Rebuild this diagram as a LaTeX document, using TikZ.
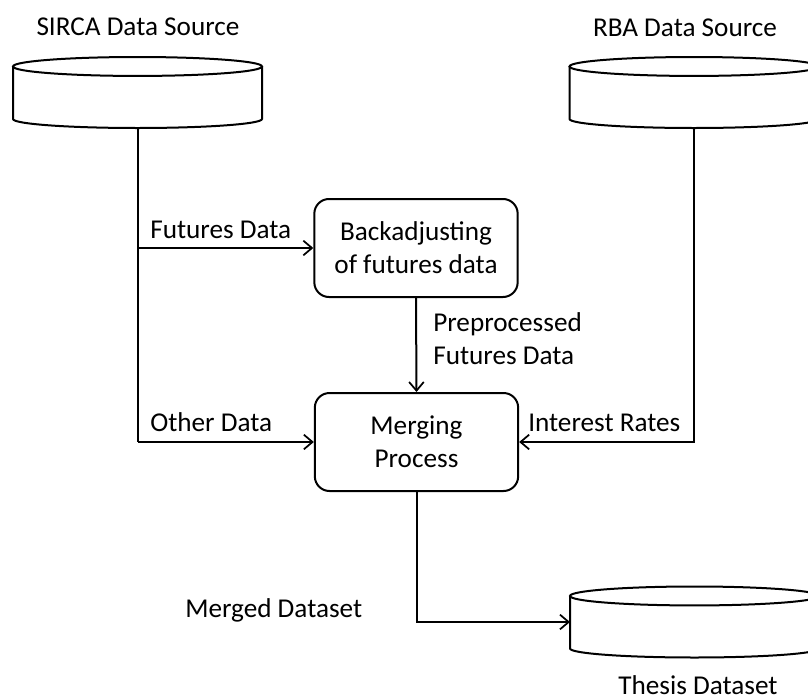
\documentclass[tikz,border=0pt]{standalone}
\usepackage{fontspec}
\setmainfont{Carlito}
\usetikzlibrary{arrows.meta}
\tikzset{
  ln/.style={line width=1.5pt, black},
  conn/.style={ln, -{Straight Barb[length=6.5pt,width=11pt,line width=1.3pt]}},
  procbox/.style={draw, ln, rounded corners=11pt, align=center, inner sep=0pt,
     minimum width=152.5pt, minimum height=73.5pt},
  dbnode/.style={inner sep=0pt, outer sep=0pt, minimum width=186.75pt, minimum height=53.25pt},
  lbl/.style={inner sep=0pt, align=left},
}
\newcommand\dbcyl[1]{%
  \fill[white] ([yshift=-7.1pt]#1.north west) rectangle ([yshift=6.75pt]#1.south east);
  \draw[ln] ([yshift=-7.1pt]#1.north west) -- ([yshift=6.75pt]#1.south west)
     arc[start angle=180, end angle=360, x radius=93.375pt, y radius=6.75pt]
     -- ([yshift=-7.1pt]#1.north east);
  \draw[ln, fill=white] ([yshift=-7.1pt]#1.north) ellipse [x radius=93.375pt, y radius=7.1pt];
}
\begin{document}
\begin{tikzpicture}[x=0.75pt, y=-0.75pt, font=\fontsize{20.4}{24.75}\selectfont]
\useasboundingbox (0,0) rectangle (808,700);
\clip (0,0) rectangle (808,700);

% data stores
\node[dbnode] (sirca) at (137.5,92.5) {};
\node[dbnode] (rba) at (694,92.5) {};
\node[dbnode] (thesis) at (694.5,622) {};
\dbcyl{sirca}
\dbcyl{rba}
\dbcyl{thesis}

% process boxes
\node[procbox] (back) at (416,248) {Backadjusting\\of futures data};
\node[procbox] (merge) at (416.5,442) {Merging\\Process};

% connectors
\draw[ln] (sirca.south) -- (sirca.south |- merge.west);
\draw[conn] (sirca.south |- back.west) -- (back.west);
\draw[conn] (sirca.south |- merge.west) -- (merge.west);
\draw[conn] (rba.south) |- (merge.east);
\draw[conn] (back.south) -- (merge.north);
\draw[conn] (merge.south) |- (thesis.west);

% labels
\node[lbl, anchor=base] (tsirca) at (138,35) {SIRCA Data Source};
\node[lbl, anchor=base] (trba) at (685,36) {RBA Data Source};
\node[lbl, anchor=base west] (tfut) at (150,238) {Futures Data};
\node[lbl, anchor=base west] (toth) at (150,431) {Other Data};
\node[lbl, anchor=base west] (tint) at (528,431) {Interest Rates};
\node[lbl, anchor=north west] (tpre) at (433,312) {Preprocessed\\Futures Data};
\node[lbl, anchor=base west] (tmer) at (185,617) {Merged Dataset};
\node[lbl, anchor=base] (tthe) at (698,694) {Thesis Dataset};
\end{tikzpicture}
\end{document}
